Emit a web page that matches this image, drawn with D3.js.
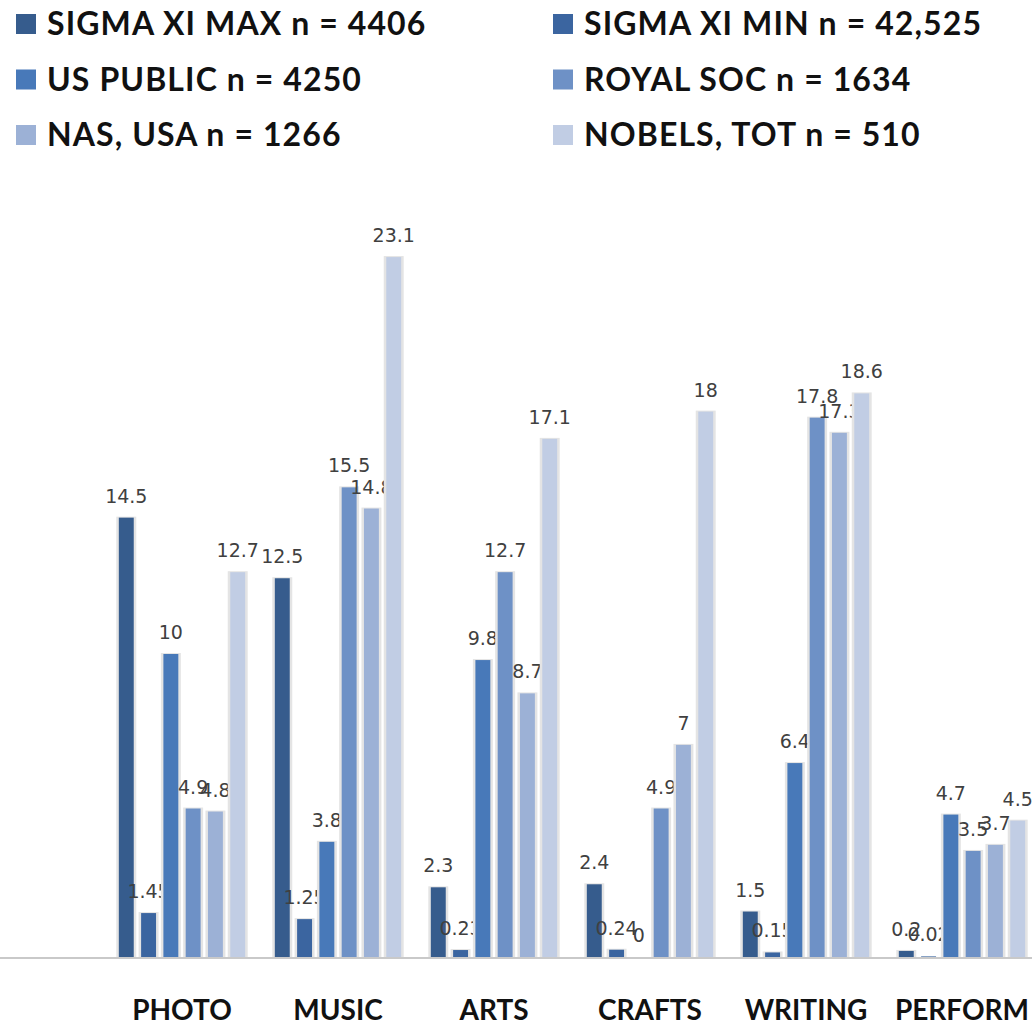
<!DOCTYPE html>
<html>
<head>
<meta charset="utf-8">
<script src="https://cdn.jsdelivr.net/npm/d3@7"></script>
<style>
  html, body { margin: 0; padding: 0; background: #ffffff; }
  svg { display: block; }
</style>
</head>
<body>
<svg id="chart" width="1032" height="1025"></svg>
<script>
// Categories of creative activity
const categories = ["PHOTO", "MUSIC", "ARTS", "CRAFTS", "WRITING", "PERFORM"];

// Survey groups (legend labels)
const seriesNames = [
  "SIGMA XI MAX n = 4406",
  "SIGMA XI MIN n = 42,525",
  "US PUBLIC n = 4250",
  "ROYAL SOC n = 1634",
  "NAS, USA n = 1266",
  "NOBELS, TOT n = 510"
];

// Percentages per group, one value per category
const sigmaXiMax = [14.5, 12.5, 2.3, 2.4, 1.5, 0.2];
const sigmaXiMin = [1.45, 1.25, 0.23, 0.24, 0.15, 0.02];
const usPublic   = [10, 3.8, 9.8, 0, 6.4, 4.7];
const royalSoc   = [4.9, 15.5, 12.7, 4.9, 17.8, 3.5];
const nasUsa     = [4.8, 14.8, 8.7, 7, 17.3, 3.7];
const nobelsTot  = [12.7, 23.1, 17.1, 18, 18.6, 4.5];

const seriesValues = [sigmaXiMax, sigmaXiMin, usPublic, royalSoc, nasUsa, nobelsTot];
const colors = ["#365c8d", "#3b65a0", "#4879b9", "#6e91c6", "#9cb1d6", "#c1cde4"];

const svg = d3.select("#chart");

// Scales
const baseY = 957;
const y = d3.scaleLinear().domain([0, 25]).range([baseY, baseY - 25 * 30.3]);
const x0 = d3.scaleBand().domain(categories).range([104, 1040]).paddingInner(0).paddingOuter(0);
const x1 = d3.scaleBand().domain(d3.range(seriesNames.length))
  .range([0, x0.bandwidth()]).paddingInner(0.33).paddingOuter(0.665);

// Legend
const legend = svg.append("g");
seriesNames.forEach((name, i) => {
  const col = i % 2, row = Math.floor(i / 2);
  const lx = col === 0 ? 16 : 553;
  const ly = 24 + row * 55.5;
  legend.append("rect")
    .attr("x", lx).attr("y", ly - 10)
    .attr("width", 20).attr("height", 20)
    .attr("fill", colors[i]);
  legend.append("text")
    .attr("x", lx + 31).attr("y", ly + 11)
    .attr("font-family", "Lato, sans-serif")
    .attr("font-weight", 700)
    .attr("font-size", 32)
    .attr("letter-spacing", 1.1)
    .attr("fill", "#111")
    .text(name);
});

// Baseline
svg.append("line")
  .attr("x1", 0).attr("x2", 1032)
  .attr("y1", baseY + 1).attr("y2", baseY + 1)
  .attr("stroke", "#c9c9c9").attr("stroke-width", 2);

// Bars with soft gray shadow edges
const groups = svg.append("g").selectAll("g")
  .data(categories)
  .join("g")
  .attr("transform", d => `translate(${x0(d)},0)`);

const cells = groups.selectAll("g")
  .data((c, ci) => seriesValues.map((vals, si) => ({ si, v: vals[ci] })))
  .join("g");

cells.append("rect")
  .attr("x", d => x1(d.si) - 2.5)
  .attr("y", d => y(d.v) - 1)
  .attr("width", x1.bandwidth() + 5)
  .attr("height", d => baseY - y(d.v) + 1)
  .attr("fill", "#e4e4e4")
  .attr("opacity", d => d.v > 0.05 ? 1 : 0);

cells.append("rect")
  .attr("x", d => x1(d.si))
  .attr("y", d => y(d.v))
  .attr("width", x1.bandwidth())
  .attr("height", d => baseY - y(d.v))
  .attr("fill", d => colors[d.si]);

cells.append("text")
  .attr("x", d => x1(d.si) + x1.bandwidth() / 2)
  .attr("y", d => y(d.v) - 15)
  .attr("text-anchor", "middle")
  .attr("font-family", "DejaVu Sans, sans-serif")
  .attr("font-size", 19)
  .attr("fill", "#404040")
  .text(d => d.v);

// Category labels
svg.append("g").selectAll("text")
  .data(categories)
  .join("text")
  .attr("x", d => x0(d) + x0.bandwidth() / 2)
  .attr("y", 1020)
  .attr("text-anchor", "middle")
  .attr("font-family", "Lato, sans-serif")
  .attr("font-weight", 700)
  .attr("font-size", 28)
  .attr("fill", "#111")
  .text(d => d);
</script>
</body>
</html>
